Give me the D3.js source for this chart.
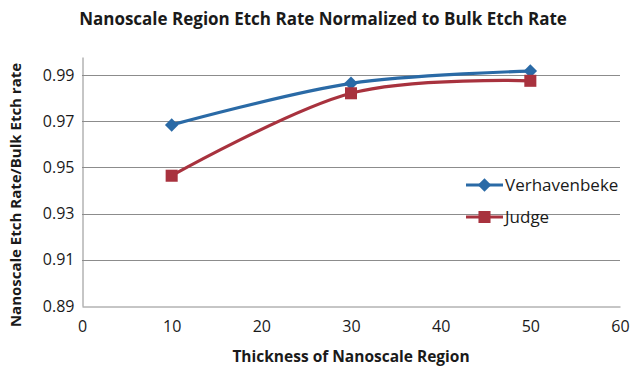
<!DOCTYPE html>
<html>
<head>
<meta charset="utf-8">
<script src="https://cdn.jsdelivr.net/npm/d3@7"></script>
<style>
  body { margin: 0; background: #fff; }
  svg { display: block; }
  text { font-family: "Open Sans", "Noto Sans", sans-serif; fill: #1a1a1a; }
</style>
</head>
<body>
<svg id="chart" width="631" height="372"></svg>
<script>
// Thickness of the nanoscale region (x) and normalized etch rate for each study
const thickness = [10, 30, 50];
const verhavenbeke = [0.9684, 0.9864, 0.9917];
const judge = [0.9464, 0.9821, 0.9875];
const seriesNames = ["Verhavenbeke", "Judge"];
const xTicks = [0, 10, 20, 30, 40, 50, 60];
const yTicks = [0.89, 0.91, 0.93, 0.95, 0.97, 0.99];

const colors = ["#2a6aa6", "#a8323e"];

const svg = d3.select("#chart");
const plot = { left: 82, right: 620, top: 57, bottom: 306 };

const x = d3.scaleLinear().domain([0, 60]).range([plot.left, plot.right]);
const y = d3.scaleLinear().domain([0.89, 0.9978]).range([plot.bottom, plot.top]);

// Title
svg.append("text")
  .attr("x", 323).attr("y", 25)
  .attr("text-anchor", "middle")
  .attr("font-weight", "bold")
  .attr("font-size", 17)
  .text("Nanoscale Region Etch Rate Normalized to Bulk Etch Rate");

// Horizontal gridlines
svg.append("g")
  .selectAll("line")
  .data(yTicks.slice(1))
  .join("line")
  .attr("x1", plot.left).attr("x2", plot.right)
  .attr("y1", d => Math.round(y(d)) + 0.5).attr("y2", d => Math.round(y(d)) + 0.5)
  .attr("stroke", "#8c8c8c").attr("stroke-width", 1);

// Y axis
const yAxis = svg.append("g")
  .attr("transform", `translate(${plot.left + 0.5},0)`)
  .call(d3.axisLeft(y).tickValues(yTicks).tickFormat(d3.format(".2f")).tickSize(0).tickPadding(8));
yAxis.select(".domain").attr("stroke", "#8c8c8c");
yAxis.selectAll("text").attr("font-size", 16).style("font-family", "Open Sans, sans-serif").attr("fill", "#1a1a1a");

// X axis
const xAxis = svg.append("g")
  .attr("transform", `translate(0,${Math.round(plot.bottom) + 0.5})`)
  .call(d3.axisBottom(x).tickValues(xTicks).tickFormat(d3.format("d")).tickSize(0).tickPadding(14));
xAxis.select(".domain").attr("stroke", "#8c8c8c");
xAxis.selectAll("text").attr("font-size", 16).style("font-family", "Open Sans, sans-serif").attr("fill", "#1a1a1a");

// Axis titles
svg.append("text")
  .attr("x", 351).attr("y", 362)
  .attr("text-anchor", "middle")
  .attr("font-weight", "bold")
  .attr("font-size", 15.5)
  .text("Thickness of Nanoscale Region");

svg.append("text")
  .attr("transform", "translate(21,195) rotate(-90)")
  .attr("text-anchor", "middle")
  .attr("font-weight", "bold")
  .attr("font-size", 15)
  .text("Nanoscale Etch Rate/Bulk Etch rate");

// Series lines and markers
const line = d3.line()
  .x(d => x(d[0])).y(d => y(d[1]))
  .curve(d3.curveCardinal.tension(0));

const series = [verhavenbeke, judge];
const symbols = [d3.symbolDiamond2, d3.symbolSquare2];
const symbolSizes = [115, 185];

series.forEach((vals, i) => {
  const pts = thickness.map((t, j) => [t, vals[j]]);
  svg.append("path")
    .datum(pts)
    .attr("d", line)
    .attr("fill", "none")
    .attr("stroke", colors[i])
    .attr("stroke-width", 3.2);
  svg.append("g")
    .selectAll("path")
    .data(pts)
    .join("path")
    .attr("transform", d => `translate(${x(d[0])},${y(d[1])})`)
    .attr("d", d3.symbol().type(symbols[i]).size(symbolSizes[i]))
    .attr("fill", colors[i]);
});

// Legend
const legend = svg.append("g");
seriesNames.forEach((name, i) => {
  const ly = 185 + i * 32;
  legend.append("line")
    .attr("x1", 466).attr("x2", 503)
    .attr("y1", ly).attr("y2", ly)
    .attr("stroke", colors[i]).attr("stroke-width", 3.2);
  legend.append("path")
    .attr("transform", `translate(484.5,${ly})`)
    .attr("d", d3.symbol().type(symbols[i]).size(symbolSizes[i]))
    .attr("fill", colors[i]);
  legend.append("text")
    .attr("x", 505).attr("y", ly + 6)
    .attr("font-size", 17)
    .text(name);
});
</script>
</body>
</html>
